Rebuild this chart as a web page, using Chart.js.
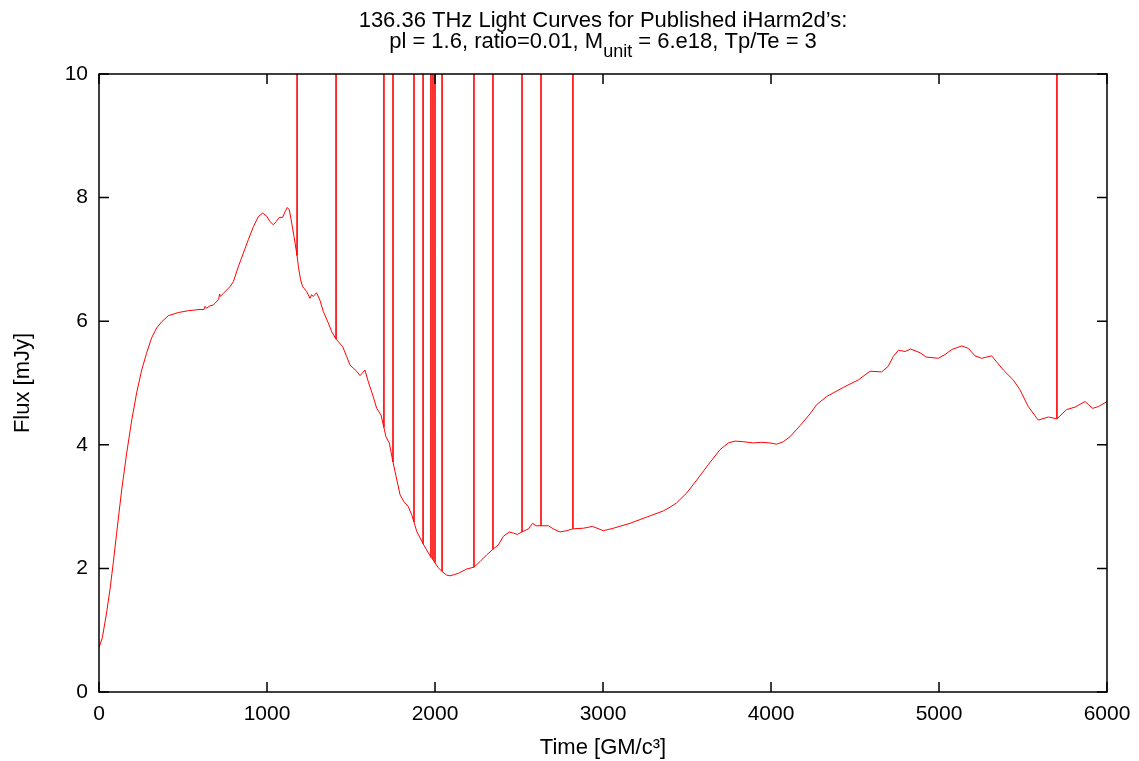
<!DOCTYPE html>
<html lang="en">
<head>
  <meta charset="UTF-8">
  <title>136.36 THz Light Curves</title>
  <script src="https://cdn.jsdelivr.net/npm/chart.js"></script>
  <style>
    body { margin: 0; background: #fff; }
    canvas { display: block; }
  </style>
</head>
<body>
  <canvas id="lightCurve" width="1139" height="761"></canvas>

  <script>
    // light curve (time in GM/c^3, flux in mJy)
    const times = [
      0, 20, 45, 65, 85, 105, 135, 165, 195, 224, 254, 283, 313, 343, 373, 413, 472, 532,
      601, 625, 631, 640, 661, 680, 690, 712, 718, 722, 740, 780, 800, 829, 859, 889, 919,
      948, 974, 998, 1018, 1038, 1054, 1073, 1093, 1107, 1121, 1133, 1147, 1161, 1179, 1187,
      1200, 1212, 1236, 1256, 1265, 1275, 1295, 1315, 1335, 1365, 1385, 1411, 1450, 1474,
      1494, 1534, 1554, 1583, 1603, 1630, 1653, 1679, 1696, 1708, 1728, 1750, 1762, 1792,
      1815, 1841, 1861, 1875, 1891, 1929, 1950, 1976, 1988, 2000, 2020, 2042, 2070, 2089,
      2115, 2139, 2188, 2232, 2268, 2308, 2345, 2377, 2407, 2443, 2467, 2490, 2518, 2556,
      2581, 2601, 2631, 2675, 2704, 2744, 2784, 2821, 2883, 2937, 3002, 3062, 3161, 3260,
      3359, 3399, 3438, 3498, 3558, 3627, 3696, 3746, 3786, 3835, 3895, 3945, 3994, 4034,
      4073, 4113, 4173, 4232, 4272, 4331, 4431, 4520, 4589, 4659, 4698, 4728, 4758, 4798,
      4831, 4887, 4923, 4996, 5036, 5075, 5135, 5175, 5214, 5254, 5313, 5383, 5442, 5482,
      5531, 5591, 5651, 5702, 5760, 5810, 5869, 5890, 5915, 5950, 6000
    ];
    const flux = [
      0.72, 0.88, 1.28, 1.65, 2.09, 2.57, 3.27, 3.87, 4.40, 4.84, 5.21, 5.48, 5.73, 5.89, 5.99, 6.09, 6.14, 6.17,
      6.19, 6.19, 6.24, 6.21, 6.25, 6.26, 6.29, 6.35, 6.44, 6.40, 6.45, 6.56, 6.64, 6.88, 7.10, 7.32, 7.53,
      7.69, 7.75, 7.70, 7.61, 7.56, 7.61, 7.68, 7.68, 7.77, 7.84, 7.80, 7.59, 7.37, 7.06, 6.88,
      6.67, 6.56, 6.48, 6.37, 6.43, 6.40, 6.46, 6.34, 6.16, 5.97, 5.83, 5.71, 5.59, 5.43,
      5.29, 5.19, 5.12, 5.21, 5.02, 4.80, 4.59, 4.48, 4.28, 4.13, 4.03, 3.72, 3.57, 3.19,
      3.08, 3.00, 2.87, 2.75, 2.60, 2.40, 2.30, 2.18, 2.14, 2.09, 2.01, 1.95, 1.89, 1.88,
      1.90, 1.92, 1.99, 2.02, 2.11, 2.22, 2.31, 2.38, 2.52, 2.59, 2.57, 2.55, 2.59, 2.64,
      2.73, 2.69, 2.69, 2.69, 2.64, 2.59, 2.61, 2.64, 2.65, 2.68, 2.61, 2.65, 2.73, 2.83,
      2.93, 2.99, 3.06, 3.22, 3.43, 3.68, 3.92, 4.03, 4.06, 4.05, 4.03, 4.04, 4.03, 4.01,
      4.05, 4.13, 4.31, 4.50, 4.65, 4.78, 4.93, 5.05, 5.19, 5.18, 5.27, 5.43, 5.53, 5.51,
      5.55, 5.49, 5.42, 5.40, 5.46, 5.54, 5.60, 5.56, 5.44, 5.40, 5.44, 5.21, 5.05, 4.89,
      4.62, 4.40, 4.45, 4.42, 4.57, 4.61, 4.70, 4.65, 4.59, 4.62, 4.70
    ];

    // single frames that blow up far above the plotted range
    const spikeTimes = [1179, 1411, 1696, 1750, 1875, 1929, 1976, 1988, 2000, 2042, 2232, 2345, 2518, 2631, 2821, 5702];
    const spikeFlux = 40;

    const xTicks = [0, 1000, 2000, 3000, 4000, 5000, 6000];
    const yTicks = [0, 2, 4, 6, 8, 10];

    const curvePoints = times.map((t, i) => ({ x: t, y: flux[i] }));
    const spikePoints = [];
    spikeTimes.forEach(t => {
      const base = flux[times.indexOf(t)];
      spikePoints.push({ x: t, y: base }, { x: t, y: spikeFlux }, { x: t, y: null });
    });

    const FONT = '"Liberation Sans", Helvetica, Arial, sans-serif';

    // gnuplot style box with inward ticks on every side, plus the two line title
    const framePlugin = {
      id: 'frame',
      afterDraw(chart) {
        const { ctx, chartArea: a, scales: { x, y } } = chart;
        ctx.save();
        ctx.strokeStyle = '#000';
        ctx.lineWidth = 1.5;
        ctx.strokeRect(a.left, a.top, a.right - a.left, a.bottom - a.top);
        ctx.beginPath();
        xTicks.forEach(v => {
          const px = x.getPixelForValue(v);
          ctx.moveTo(px, a.bottom); ctx.lineTo(px, a.bottom - 10);
          ctx.moveTo(px, a.top); ctx.lineTo(px, a.top + 10);
        });
        yTicks.forEach(v => {
          const py = y.getPixelForValue(v);
          ctx.moveTo(a.left, py); ctx.lineTo(a.left + 10, py);
          ctx.moveTo(a.right, py); ctx.lineTo(a.right - 10, py);
        });
        ctx.stroke();

        const cx = (a.left + a.right) / 2;
        ctx.fillStyle = '#000';
        ctx.textBaseline = 'alphabetic';
        ctx.font = '22px ' + FONT;
        ctx.textAlign = 'center';
        ctx.fillText('136.36 THz Light Curves for Published iHarm2d\u2019s:', cx, 27);

        const partA = 'pl = 1.6, ratio=0.01, M';
        const sub = 'unit';
        const partB = ' = 6.e18, Tp/Te = 3';
        ctx.font = '22px ' + FONT;
        const wA = ctx.measureText(partA).width;
        const wB = ctx.measureText(partB).width;
        ctx.font = '18px ' + FONT;
        const wS = ctx.measureText(sub).width;
        let sx = cx - (wA + wS + wB) / 2;
        ctx.textAlign = 'left';
        ctx.font = '22px ' + FONT;
        ctx.fillText(partA, sx, 48);
        sx += wA;
        ctx.font = '18px ' + FONT;
        ctx.fillText(sub, sx, 57);
        sx += wS;
        ctx.font = '22px ' + FONT;
        ctx.fillText(partB, sx, 48);
        ctx.restore();
      }
    };

    new Chart(document.getElementById('lightCurve'), {
      type: 'line',
      data: {
        datasets: [{
          data: curvePoints,
          borderColor: '#ff0000',
          borderWidth: 1,
          pointRadius: 0,
          tension: 0,
          fill: false
        }, {
          data: spikePoints,
          borderColor: '#ff0000',
          borderWidth: 1.6,
          pointRadius: 0,
          tension: 0,
          fill: false,
          spanGaps: false
        }]
      },
      options: {
        responsive: false,
        animation: false,
        events: [],
        layout: { padding: { top: 74, right: 32, left: 0, bottom: 0 } },
        plugins: { legend: { display: false }, tooltip: { enabled: false } },
        scales: {
          x: {
            type: 'linear',
            min: 0,
            max: 6000,
            afterFit(scale) {
              scale.height = 69;
              scale.paddingLeft = 0;
              scale.paddingRight = 0;
            },
            afterBuildTicks(scale) { scale.ticks = xTicks.map(v => ({ value: v })); },
            grid: { display: false, drawTicks: false },
            border: { display: false },
            ticks: { color: '#000', padding: 10, font: { family: FONT, size: 21 }, callback: v => String(v) },
            title: {
              display: true,
              text: 'Time [GM/c\u00b3]',
              color: '#000',
              padding: { top: 0, bottom: 0 },
              font: { family: FONT, size: 22 }
            }
          },
          y: {
            min: 0,
            max: 10,
            afterFit(scale) {
              scale.width = 99;
              scale.paddingTop = 0;
              scale.paddingBottom = 0;
            },
            afterBuildTicks(scale) { scale.ticks = yTicks.map(v => ({ value: v })); },
            grid: { display: false, drawTicks: false },
            border: { display: false },
            ticks: { color: '#000', padding: 11, font: { family: FONT, size: 21 }, callback: v => String(v) },
            title: {
              display: true,
              text: 'Flux [mJy]',
              color: '#000',
              padding: { top: 10, bottom: 0 },
              font: { family: FONT, size: 22 }
            }
          }
        }
      },
      plugins: [framePlugin]
    });
  </script>
</body>
</html>
